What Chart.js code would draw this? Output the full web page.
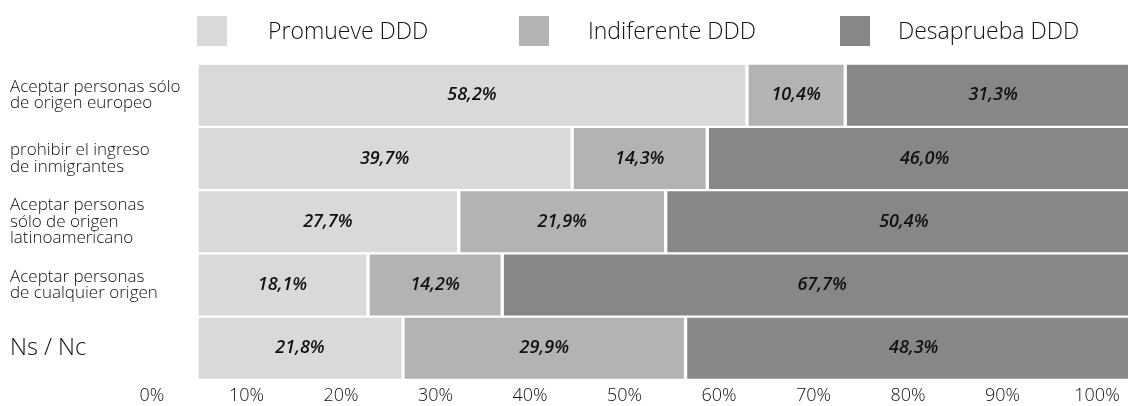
<!DOCTYPE html>
<html>
<head>
<meta charset="utf-8">
<script src="https://cdn.jsdelivr.net/npm/chart.js@4/dist/chart.umd.min.js"></script>
<style>
  html, body { margin: 0; padding: 0; background: #fff; overflow: hidden; }
  #wrap { width: 1128px; height: 406px; overflow: hidden; position: relative; }
  canvas { display: block; }
</style>
</head>
<body>
<div id="wrap"><canvas id="chart" width="1142" height="406"></canvas></div>
<script>
// Survey answers per statement, in percent
const categories = [
  ["Aceptar personas sólo", "de origen europeo"],
  ["prohibir el ingreso", "de inmigrantes"],
  ["Aceptar personas", "sólo de origen", "latinoamericano"],
  ["Aceptar personas", "de cualquier origen"],
  "Ns / Nc"
];
const seriesNames = ["Promueve DDD", "Indiferente DDD", "Desaprueba DDD"];
const promueve    = [58.2, 39.7, 27.7, 18.1, 21.8];
const indiferente = [10.4, 14.3, 21.9, 14.2, 29.9];
const desaprueba  = [31.3, 46.0, 50.4, 67.7, 48.3];
const tickValues  = [0, 10, 20, 30, 40, 50, 60, 70, 80, 90, 100];
const tickLabels  = ["0%", "10%", "20%", "30%", "40%", "50%", "60%", "70%", "80%", "90%", "100%"];

const colors = ["#d9d9d9", "#b3b3b3", "#878787"];
const FONT = "'Open Sans', 'Liberation Sans', sans-serif";

// Legend drawn as boxes + text above the plot
const legendPlugin = {
  id: 'topLegend',
  afterDraw(chart, args, opts) {
    const ctx = chart.ctx;
    ctx.save();
    chart.data.datasets.forEach((ds, i) => {
      const bx = opts.boxX[i], tx = opts.textX[i];
      ctx.fillStyle = ds.backgroundColor;
      ctx.fillRect(bx, opts.boxY, opts.boxSize, opts.boxSize);
      ctx.fillStyle = '#111';
      ctx.font = `300 23px ${FONT}`;
      ctx.textBaseline = 'middle';
      ctx.textAlign = 'left';
      ctx.fillText(ds.label, tx, opts.boxY + opts.boxSize / 2 + 1);
    });
    ctx.restore();
  }
};

// Value labels centred on every segment
const valueLabels = {
  id: 'valueLabels',
  afterDatasetsDraw(chart) {
    const ctx = chart.ctx;
    ctx.save();
    ctx.font = `italic 600 18px ${FONT}`;
    ctx.fillStyle = '#111';
    ctx.textAlign = 'center';
    ctx.textBaseline = 'middle';
    chart.data.datasets.forEach((ds, di) => {
      const meta = chart.getDatasetMeta(di);
      meta.data.forEach((bar, i) => {
        const v = ds.data[i];
        const cx = (bar.x + bar.base) / 2;
        ctx.fillText(v.toFixed(1).replace('.', ',') + '%', cx, bar.y);
      });
    });
    ctx.restore();
  }
};

const barBorder = { top: 1.5, bottom: 1.5, left: 2, right: 2 };

new Chart(document.getElementById('chart'), {
  type: 'bar',
  data: {
    labels: categories,
    datasets: [promueve, indiferente, desaprueba].map((d, i) => ({
      label: seriesNames[i],
      data: d,
      backgroundColor: colors[i],
      borderColor: '#ffffff',
      borderWidth: barBorder,
      borderSkipped: false,
      categoryPercentage: 1,
      barPercentage: 1
    }))
  },
  options: {
    indexAxis: 'y',
    responsive: false,
    animation: false,
    layout: { padding: { left: 10, top: 63.5, right: 0, bottom: 0 } },
    plugins: {
      legend: { display: false },
      tooltip: { enabled: false },
      topLegend: { boxX: [197, 519, 840], textX: [268, 588, 898], boxY: 16, boxSize: 30 }
    },
    scales: {
      x: {
        type: 'linear',
        stacked: true,
        min: 0,
        max: 100,
        border: { display: false },
        grid: { display: false, drawTicks: false },
        afterBuildTicks(scale) { scale.ticks = tickValues.map(v => ({ value: v })); },
        afterFit(scale) { scale.paddingLeft = 0; scale.paddingRight = 0; scale.height = 26; },
        ticks: {
          autoSkip: false,
          maxRotation: 0,
          padding: 6,
          labelOffset: -45,
          color: '#111',
          font: { family: FONT, size: 18, weight: 300, lineHeight: 1.1 },
          callback: (v) => tickLabels[tickValues.indexOf(v)]
        }
      },
      y: {
        stacked: true,
        border: { display: false },
        grid: { display: false, drawTicks: false },
        afterFit(scale) { scale.width = 187; },
        ticks: {
          crossAlign: 'far',
          padding: 0,
          color: '#111',
          font: (c) => c.index === 4
            ? { family: FONT, size: 23.5, weight: 300, lineHeight: 1.1 }
            : { family: FONT, size: 17, weight: 300, lineHeight: 0.98 }
        }
      }
    }
  },
  plugins: [legendPlugin, valueLabels]
});
</script>
</body>
</html>
